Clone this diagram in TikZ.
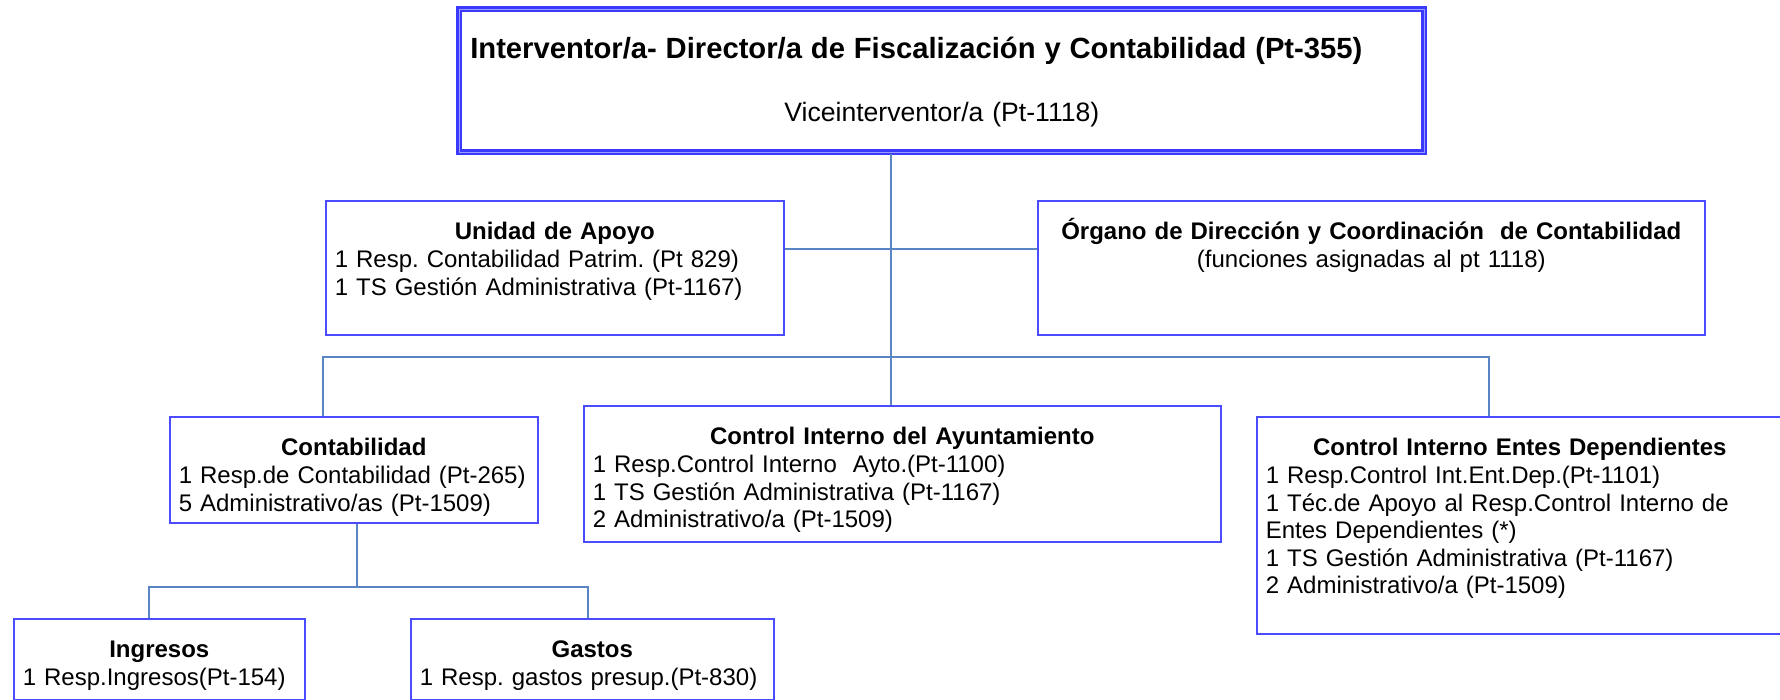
\documentclass[tikz,border=0pt]{standalone}
\usepackage{fontspec}
\setmainfont{Liberation Sans}
\frenchspacing
\definecolor{unitborder}{HTML}{4B4BFF}
\definecolor{chiefborder}{HTML}{3A3AFF}
\definecolor{chiefgap}{HTML}{9C9CFF}
\definecolor{linkblue}{HTML}{5B84C4}
\newcommand{\hd}[1]{\makebox[\linewidth]{\bfseries #1}}

\begin{document}
\begin{tikzpicture}[
    x=0.5pt, y=-0.5pt,
    unit/.style={draw=unitborder, line width=0.8pt, anchor=north west,
      align=left, inner xsep=4.5pt, inner ysep=0pt, text height=19.5pt,
      font=\fontsize{12}{13.8}\selectfont},
    link/.style={draw=linkblue, line width=0.55pt}
  ]
  \useasboundingbox[fill=white] (0,0) rectangle (1780,700);

  % top of the chart
  \node[unit, draw=chiefborder, line width=1.3pt, double=chiefgap,
    double distance=0.5pt, inner xsep=5.5pt, text width=471.5pt,
    text height=24.5pt, text depth=47pt,
    font=\fontsize{13.3}{31.5}\selectfont] (chief) at (458,8)
    {{\fontsize{14.6}{31.5}\selectfont\bfseries Interventor/a- Director/a de Fiscalización y Contabilidad (Pt-355)}\\
     \makebox[\linewidth]{Viceinterventor/a (Pt-1118)}};

  % staff units
  \node[unit, text width=220pt, text depth=47.5pt] (apoyo) at (325,200)
    {\hd{Unidad de Apoyo}\\
     1 Resp. Contabilidad Patrim. (Pt 829)\\
     1 TS Gestión Administrativa (Pt-1167)};
  \node[unit, align=center, text width=324.5pt, text depth=47.5pt]
    (organo) at (1037,200)
    {\textbf{Órgano de Dirección y Coordinación~ de Contabilidad}\\
     (funciones asignadas al pt 1118)};

  % line units
  \node[unit, text width=175pt, text depth=33.5pt] (conta) at (169,416)
    {\hd{Contabilidad}\\
     1 Resp.de Contabilidad (Pt-265)\\
     5 Administrativo/as (Pt-1509)};
  \node[unit, text width=309.5pt, text depth=48.5pt] (ayto) at (583,405)
    {\hd{Control Interno del Ayuntamiento}\\
     1 Resp.Control Interno~ Ayto.(Pt-1100)\\
     1 TS Gestión Administrativa (Pt-1167)\\
     2 Administrativo/a (Pt-1509)};
  \node[unit, text width=254pt, text depth=89pt] (entes) at (1256,416)
    {\hd{Control Interno Entes Dependientes}\\
     1 Resp.Control Int.Ent.Dep.(Pt-1101)\\
     1 Téc.de Apoyo al Resp.Control Interno de\\
     Entes Dependientes (*)\\
     1 TS Gestión Administrativa (Pt-1167)\\
     2 Administrativo/a (Pt-1509)};

  % sections of Contabilidad
  \node[unit, text width=136.5pt, text depth=21pt] (ingresos) at (13,618)
    {\hd{Ingresos}\\
     1 Resp.Ingresos(Pt-154)};
  \node[unit, text width=172.5pt, text depth=21pt] (gastos) at (410,618)
    {\hd{Gastos}\\
     1 Resp. gastos presup.(Pt-830)};

  % connectors
  \coordinate (spine) at (891,300);
  \coordinate (side) at (891,249);
  \coordinate (busL) at (323,357);
  \coordinate (busR) at (1489,357);
  \coordinate (forkM) at (357,587);
  \coordinate (forkL) at (149,587);
  \coordinate (forkR) at (588,587);
  \draw[link] (chief.south -| spine) -- (spine |- ayto.north);
  \draw[link] (apoyo.east |- side) -- (organo.west |- side);
  \draw[link] (conta.north -| busL) -- (busL) -- (busR) -- (entes.north -| busR);
  \draw[link] (conta.south -| forkM) -- (forkM);
  \draw[link] (ingresos.north -| forkL) -- (forkL) -- (forkR)
    -- (gastos.north -| forkR);
\end{tikzpicture}
\end{document}
